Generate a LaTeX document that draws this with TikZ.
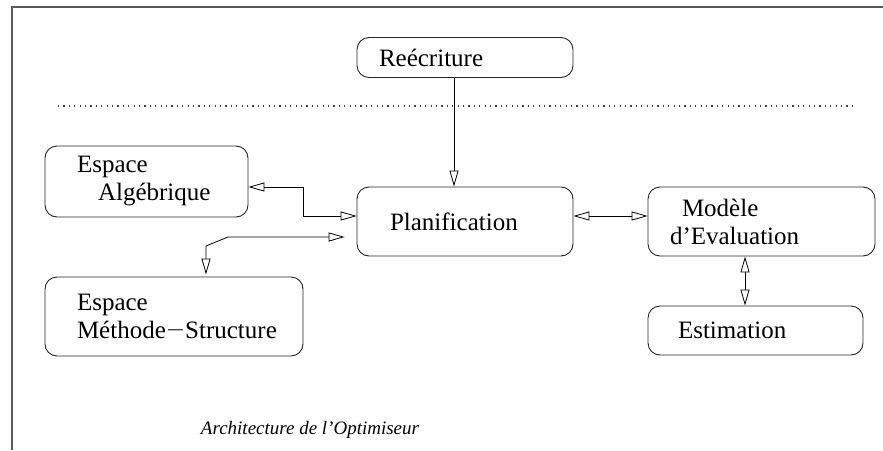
\documentclass[tikz,border=0pt]{standalone}
\usepackage{fontspec}
\setmainfont{Liberation Serif}
\usetikzlibrary{arrows.meta,positioning}
\tikzset{box/.style={draw=black!85,line width=0.9pt,rounded corners=12pt,align=left,inner ysep=0pt,font=\fontsize{25}{28}\selectfont},
  darr/.style={{Triangle[open,length=16pt,width=9pt]}-{Triangle[open,length=16pt,width=9pt]},line width=0.8pt},
  arr/.style={-{Triangle[open,length=16pt,width=9pt]},line width=0.8pt}}

\begin{document}
\begin{tikzpicture}[x=1pt,y=-1pt]
\useasboundingbox (0,0) rectangle (883,450);
\draw[black!65,line width=1.3pt] (12,450) -- (12,7) -- (883,7);
\draw[black!75,line width=1.1pt,dash pattern=on 1.1pt off 4.3pt] (58,106) -- (854,106);
\node[box,minimum width=216pt,minimum height=40pt,inner xsep=22pt,text width=172pt] (rec) at (465,57.5) {Reécriture};
\node[box,minimum width=216pt,minimum height=69pt,inner xsep=33pt,text width=150pt] (pla) at (465,221.5) {Planification};
\node[box,minimum width=203pt,minimum height=71pt,inner xsep=32pt,text width=139pt] (alg) at (146.5,181.5) {Espace\\\hspace*{21pt}Algébrique};
\node[box,minimum width=258pt,minimum height=79pt,inner xsep=32pt,text width=194pt] (met) at (174,316.5) {Espace\\Méthode\raisebox{1.5pt}{$-$}Structure};
\node[box,minimum width=227pt,minimum height=69pt,inner xsep=22pt,text width=183pt] (mod) at (761.5,221.5) {\hspace*{12pt}Modèle\\d'Evaluation};
\node[box,minimum width=215pt,minimum height=49pt,inner xsep=30pt,text width=155pt] (est) at (755.5,330.5) {Estimation};
\node[font=\fontsize{19}{23}\selectfont\itshape] (cap) at (310,430) {Architecture de l'Optimiseur};
% liaisons
\coordinate (k0) at (454,0);
\coordinate (k1) at (228,237);
\coordinate (k2) at (206,246);
\coordinate (k3) at (745,0);
\draw[arr] (rec.south -| k0) -- (pla.north -| k0);
\draw[darr] ([yshift=-5.5pt]alg.east) -- ++(55,0) |- ([yshift=5.5pt]pla.west);
\draw[darr] ([xshift=-12pt,yshift=-15.5pt]pla.west) -- (k1) -- (k2) -- ([xshift=32pt,yshift=2pt]met.north);
\draw[darr] ([yshift=5.5pt]pla.east) -- ([yshift=5.5pt]mod.west);
\draw[darr] (mod.south -| k3) -- (est.north -| k3);
\end{tikzpicture}
\end{document}
